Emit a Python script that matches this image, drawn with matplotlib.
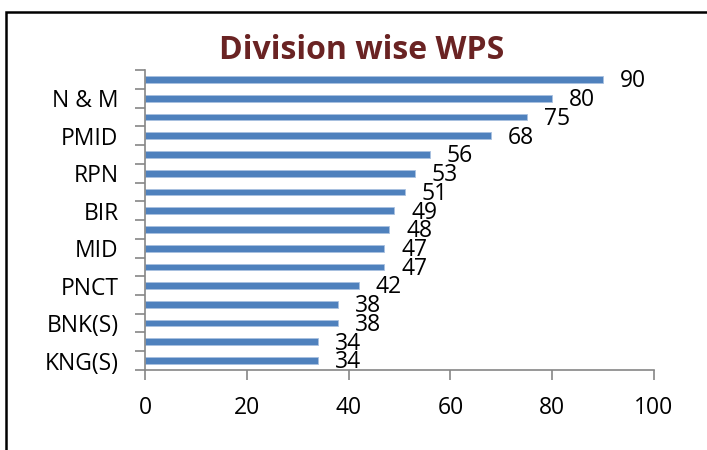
import matplotlib.pyplot as plt
from matplotlib.patches import Rectangle

# bottom to top
divisions = ["KNG(S)", "", "BNK(S)", "", "PNCT", "", "MID", "",
             "BIR", "", "RPN", "", "PMID", "", "N & M", ""]
wps = [34, 34, 38, 38, 42, 47, 47, 48, 49, 51, 53, 56, 68, 75, 80, 90]
x_ticks = [0, 20, 40, 60, 80, 100]

plt.rcParams['font.family'] = ['Open Sans', 'DejaVu Sans']

fig = plt.figure(figsize=(7.07, 4.5), dpi=100)
ax = fig.add_axes([0.2051, 0.1778, 0.7199, 0.6666])

pos = list(range(len(wps)))
ax.barh(pos, wps, height=0.36, color="#4f81bd", edgecolor="#a9c1e0", linewidth=0.6)

for p, v in zip(pos, wps):
    ax.text(v + 3.3, p - 0.1, str(v), fontsize=16.5, va="center", ha="left", color="black")

ax.set_xlim(0, 100)
ax.set_ylim(-0.5, len(wps) - 0.5)
ax.set_xticks(x_ticks)
ax.set_xticklabels([str(t) for t in x_ticks], fontsize=16.5)
ax.set_yticks(pos)
ax.set_yticklabels(divisions, fontsize=16.5)
ax.tick_params(axis="y", length=0, pad=19)
ax.set_yticks([i - 0.5 for i in range(len(wps) + 1)], minor=True)
ax.tick_params(axis="y", which="minor", length=7, color="#868686", width=1.2)
ax.tick_params(axis="x", length=7, color="#868686", width=1.2, pad=12)

for s in ["top", "right"]:
    ax.spines[s].set_visible(False)
for s in ["left", "bottom"]:
    ax.spines[s].set_color("#868686")
    ax.spines[s].set_linewidth(1.2)

fig.text(0.511, 0.887, "Division wise WPS", fontsize=23, fontweight="bold",
         color="#6a2323", ha="center", va="center")

# chart frame: only top and left edges fall inside the picture
fig.patches.append(Rectangle((0.008, -0.1), 1.1, 1.073, transform=fig.transFigure,
                             fill=False, edgecolor="black", linewidth=1.8))

fig.savefig("out.png", dpi=100)
